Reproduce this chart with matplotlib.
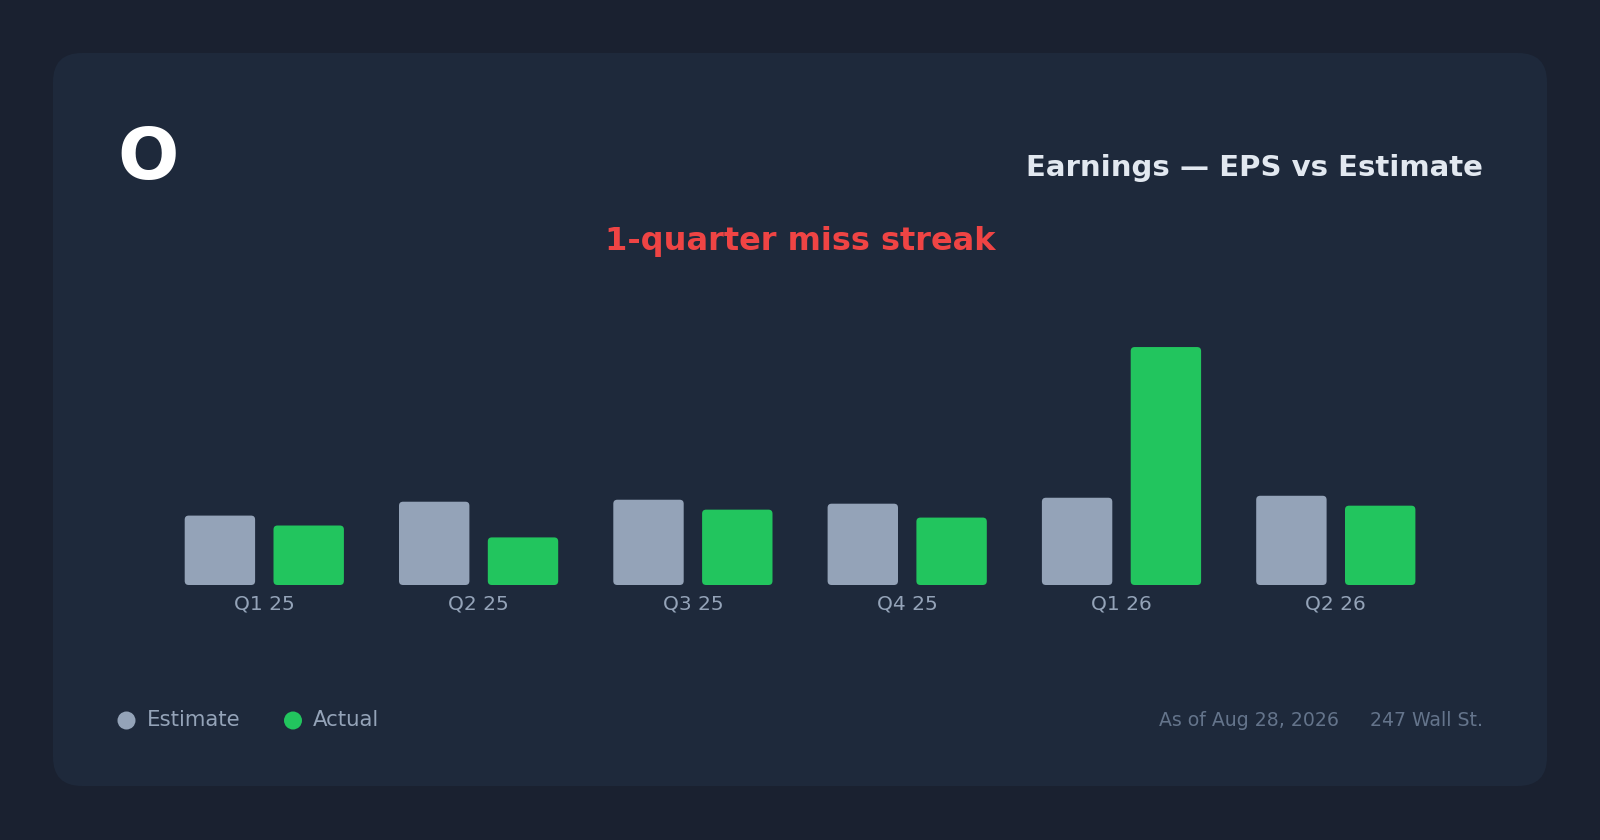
import matplotlib
matplotlib.use("Agg")
from matplotlib import pyplot as plt
from matplotlib.patches import FancyBboxPatch, Circle
import numpy as np

# data
quarters = ["Q1 25", "Q2 25", "Q3 25", "Q4 25", "Q1 26", "Q2 26"]
estimate = [0.35, 0.42, 0.43, 0.41, 0.44, 0.45]
actual = [0.30, 0.24, 0.38, 0.34, 1.20, 0.40]

ticker = "O"
title = "Earnings \u2014 EPS vs Estimate"
streak = "1-quarter miss streak"
as_of = "As of Aug 28, 2026"
source = "247 Wall St."

OUTER = "#1a2130"
CARD = "#1e293b"
EST_COL = "#94a3b8"
ACT_COL = "#22c55e"

W, H = 1600, 840
fig = plt.figure(figsize=(W / 100, H / 100), dpi=100)
fig.patch.set_facecolor(OUTER)

# background axes in pixel units (y down)
bg = fig.add_axes([0, 0, 1, 1])
bg.set_xlim(0, W)
bg.set_ylim(H, 0)
bg.axis("off")
bg.add_patch(FancyBboxPatch((53, 53), 1494, 733,
                            boxstyle="round,pad=0,rounding_size=29",
                            facecolor=CARD, edgecolor="none"))

bg.text(117, 178.5, ticker, fontsize=52, fontweight="bold", color="white",
        ha="left", va="baseline")
bg.text(1483, 176.5, title, fontsize=21, fontweight="bold", color="#e2e8f0",
        ha="right", va="baseline")
bg.text(800, 250, streak, fontsize=23, fontweight="bold", color="#ef4444",
        ha="center", va="baseline")

# legend
bg.add_patch(Circle((126.5, 720.5), 9, facecolor=EST_COL, edgecolor="none"))
bg.text(147, 720, "Estimate", fontsize=15.3, color="#94a3b8", ha="left", va="center")
bg.add_patch(Circle((293, 720.5), 9, facecolor=ACT_COL, edgecolor="none"))
bg.text(313, 720, "Actual", fontsize=15.3, color="#94a3b8", ha="left", va="center")

bg.text(1339, 720, as_of, fontsize=13.6, color="#64748b", ha="right", va="center")
bg.text(1483, 720, source, fontsize=13.6, color="#64748b", ha="right", va="center")

# bar axes
spacing = 214.3
center0 = 264.3
left_px = center0 - 0.5 * spacing
right_px = center0 + 5.5 * spacing
base_px = 585
top_px = 300
px_per_unit = 198.3
ax = fig.add_axes([left_px / W, 1 - base_px / H,
                   (right_px - left_px) / W, (base_px - top_px) / H])
ax.set_facecolor("none")
ax.set_xlim(-0.5, 5.5)
ax.set_ylim(0, (base_px - top_px) / px_per_unit)
for s in ax.spines.values():
    s.set_visible(False)
ax.set_yticks([])
x = np.arange(len(quarters))
ax.set_xticks(x)
ax.set_xticklabels(quarters, fontsize=14.5, color="#94a3b8")
ax.tick_params(axis="x", length=0, pad=7)

bw = 70.4 / spacing
off = 44.4 / spacing
rad = 4 / spacing
aspect = spacing / px_per_unit
for i in range(len(quarters)):
    for xpos, val, col in ((x[i] - off, estimate[i], EST_COL),
                           (x[i] + off, actual[i], ACT_COL)):
        ax.add_patch(FancyBboxPatch((xpos - bw / 2, 0), bw, val,
                                    boxstyle="round,pad=0,rounding_size=%f" % rad,
                                    mutation_aspect=aspect,
                                    facecolor=col, edgecolor="none"))

fig.savefig("out.png", dpi=100, facecolor=OUTER)
